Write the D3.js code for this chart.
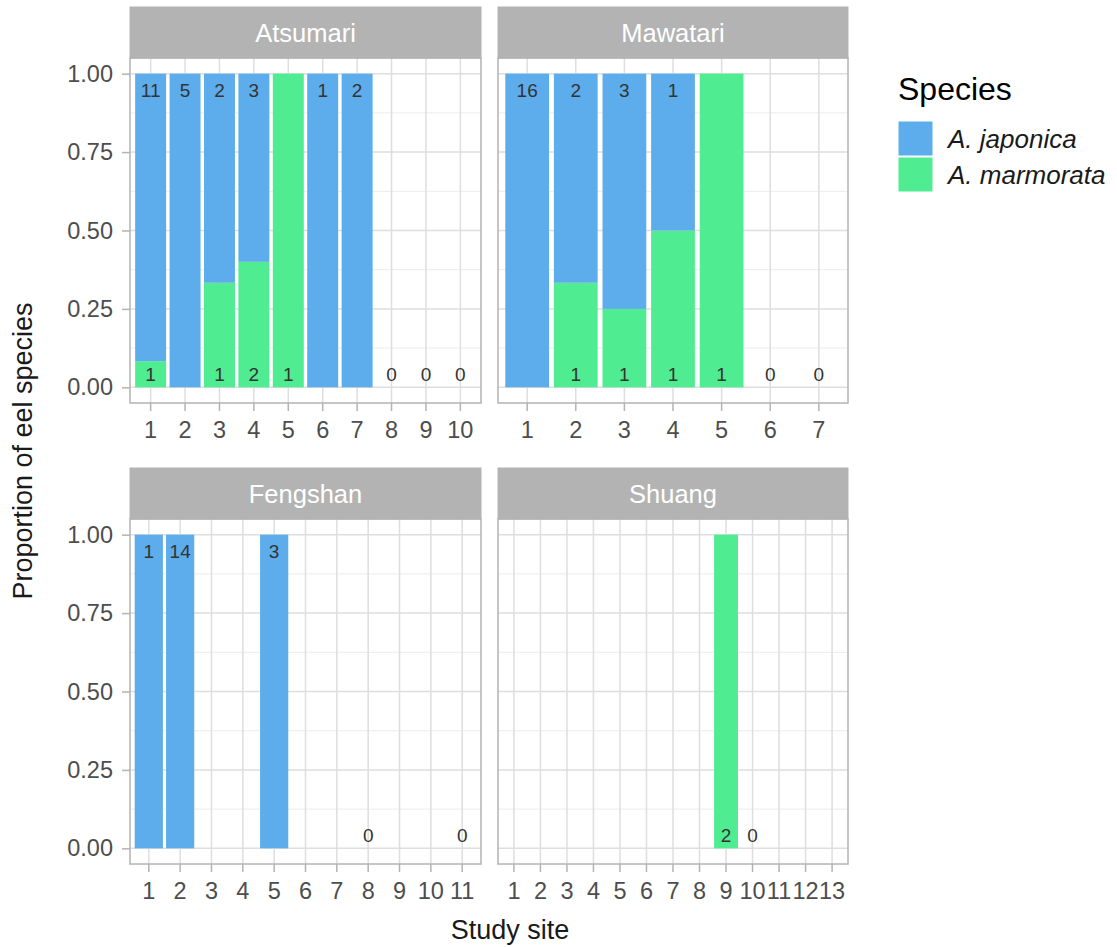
<!DOCTYPE html>
<html lang="en">
<head>
    <meta charset="UTF-8">
    <title>Eel species by study site</title>
    <style>
        body { margin: 0; background: #fff; }
        text { font-family: "Liberation Sans", Arial, Helvetica, sans-serif; }
    </style>
</head>
<body>
    <div id="chart"></div>
    <script src="https://d3js.org/d3.v7.min.js"></script>
    <script>
        // counts per site, null = site not sampled
        const panelNames = ["Atsumari", "Mawatari", "Fengshan", "Shuang"]

        const atsumariJaponica  = [11, 5, 2, 3, 0, 1, 2, 0, 0, 0]
        const atsumariMarmorata = [1, 0, 1, 2, 1, 0, 0, 0, 0, 0]

        const mawatariJaponica  = [16, 2, 3, 1, 0, 0, 0]
        const mawatariMarmorata = [0, 1, 1, 1, 1, 0, 0]

        const fengshanJaponica  = [1, 14, null, null, 3, null, null, 0, null, null, 0]
        const fengshanMarmorata = [0, 0, null, null, 0, null, null, 0, null, null, 0]

        const shuangJaponica  = [null, null, null, null, null, null, null, null, 0, 0, null, null, null]
        const shuangMarmorata = [null, null, null, null, null, null, null, null, 2, 0, null, null, null]

        const yTicks = [0, 0.25, 0.5, 0.75, 1]
        const yMinor = [0.125, 0.375, 0.625, 0.875]

        const speciesNames = ["A. japonica", "A. marmorata"]
        const colors = { jap: "#5DADEC", mar: "#50EC91" }

        const panelData = {
            Atsumari: [atsumariJaponica, atsumariMarmorata],
            Mawatari: [mawatariJaponica, mawatariMarmorata],
            Fengshan: [fengshanJaponica, fengshanMarmorata],
            Shuang:   [shuangJaponica, shuangMarmorata]
        }

        const [width, height] = [1117, 947]
        const svg = d3.select("#chart").append("svg")
            .attr("width", width)
            .attr("height", height)

        const cols = [[130, 481], [498, 848]]
        const rows = [{ strip: 7, top: 58, bottom: 403 }, { strip: 468, top: 519, bottom: 864 }]

        panelNames.forEach(function (name, idx) {
            const [xl, xr] = cols[idx % 2]
            const row = rows[Math.floor(idx / 2)]
            const [jap, mar] = panelData[name]
            const sites = jap.map((d, i) => String(i + 1))

            const x = d3.scaleBand().domain(sites).range([xl, xr])
                .paddingInner(0.1).paddingOuter(0.15)
            const y = d3.scaleLinear().domain([-0.05, 1.05]).range([row.bottom, row.top])

            const g = svg.append("g")

            // grid
            g.selectAll(".minor").data(yMinor).join("line")
                .attr("x1", xl).attr("x2", xr)
                .attr("y1", d => y(d)).attr("y2", d => y(d))
                .attr("stroke", "#EBEBEB").attr("stroke-width", 1)
            g.selectAll(".majory").data(yTicks).join("line")
                .attr("x1", xl).attr("x2", xr)
                .attr("y1", d => y(d)).attr("y2", d => y(d))
                .attr("stroke", "#DEDEDE").attr("stroke-width", 1.5)
            g.selectAll(".majorx").data(sites).join("line")
                .attr("x1", d => x(d) + x.bandwidth() / 2).attr("x2", d => x(d) + x.bandwidth() / 2)
                .attr("y1", row.top).attr("y2", row.bottom)
                .attr("stroke", "#DEDEDE").attr("stroke-width", 1.5)

            // stacked proportions
            const rowsData = sites.map((s, i) => ({ site: s, jap: jap[i], mar: mar[i] }))
            const valid = rowsData.filter(d => d.jap !== null && d.jap + d.mar > 0)
            const stack = d3.stack().keys(["mar", "jap"]).offset(d3.stackOffsetExpand)
            const series = stack(valid)

            series.forEach(function (s) {
                g.selectAll(null).data(s.filter(d => d[1] - d[0] > 0)).join("rect")
                    .attr("x", d => x(d.data.site))
                    .attr("width", x.bandwidth())
                    .attr("y", d => y(d[1]))
                    .attr("height", d => y(d[0]) - y(d[1]))
                    .attr("fill", colors[s.key])
            })

            // count labels
            const labels = []
            rowsData.forEach(function (d) {
                if (d.jap === null) return
                if (d.jap > 0) labels.push({ site: d.site, v: 0.945, t: d.jap })
                if (d.mar > 0) labels.push({ site: d.site, v: 0.04, t: d.mar })
                if (d.jap + d.mar === 0) labels.push({ site: d.site, v: 0.04, t: 0 })
            })
            g.selectAll(null).data(labels).join("text")
                .attr("x", d => x(d.site) + x.bandwidth() / 2)
                .attr("y", d => y(d.v))
                .attr("text-anchor", "middle")
                .attr("dominant-baseline", "central")
                .attr("font-size", 19)
                .attr("fill", "#333333")
                .text(d => d.t)

            // panel border
            g.append("rect")
                .attr("x", xl).attr("y", row.top)
                .attr("width", xr - xl).attr("height", row.bottom - row.top)
                .attr("fill", "none").attr("stroke", "#B3B3B3").attr("stroke-width", 1.5)

            // strip
            g.append("rect")
                .attr("x", xl).attr("y", row.strip)
                .attr("width", xr - xl).attr("height", row.top - row.strip)
                .attr("fill", "#B3B3B3").attr("stroke", "#B3B3B3")
            g.append("text")
                .attr("x", (xl + xr) / 2).attr("y", (row.strip + row.top) / 2)
                .attr("text-anchor", "middle").attr("dominant-baseline", "central")
                .attr("font-size", 25.5).attr("fill", "#FFFFFF")
                .text(name)

            // x axis
            const xAxis = g.append("g")
                .attr("transform", `translate(0,${row.bottom})`)
                .call(d3.axisBottom(x).tickSize(8).tickPadding(10))
            xAxis.select(".domain").remove()
            xAxis.selectAll("line").attr("stroke", "#B3B3B3").attr("stroke-width", 1.5)
            xAxis.selectAll("text").attr("font-size", 23.5).attr("fill", "#4D4D4D")
                .attr("font-family", "Liberation Sans, Arial, sans-serif")

            // y axis on left column
            if (idx % 2 === 0) {
                const yAxis = g.append("g")
                    .attr("transform", `translate(${xl},0)`)
                    .call(d3.axisLeft(y).tickValues(yTicks).tickFormat(d3.format(".2f")).tickSize(8).tickPadding(9))
                yAxis.select(".domain").remove()
                yAxis.selectAll("line").attr("stroke", "#B3B3B3").attr("stroke-width", 1.5)
                yAxis.selectAll("text").attr("font-size", 23.5).attr("fill", "#4D4D4D")
                    .attr("font-family", "Liberation Sans, Arial, sans-serif")
            }
        })

        // axis titles
        svg.append("text")
            .attr("x", 510).attr("y", 939)
            .attr("text-anchor", "middle")
            .attr("font-size", 27).attr("fill", "#1A1A1A")
            .text("Study site")
        svg.append("text")
            .attr("transform", "translate(32,451) rotate(-90)")
            .attr("text-anchor", "middle")
            .attr("font-size", 27).attr("fill", "#1A1A1A")
            .text("Proportion of eel species")

        // legend
        const legend = svg.append("g")
        legend.append("text")
            .attr("x", 898).attr("y", 100)
            .attr("font-size", 32).attr("fill", "#000")
            .text("Species")
        legend.selectAll("rect").data(speciesNames).join("rect")
            .attr("x", 898).attr("y", (d, i) => 121 + i * 36)
            .attr("width", 35).attr("height", 35)
            .attr("fill", (d, i) => i === 0 ? colors.jap : colors.mar)
            .attr("stroke", "#fff").attr("stroke-width", 1)
        legend.selectAll(".lab").data(speciesNames).join("text")
            .attr("x", 948).attr("y", (d, i) => 139 + i * 36)
            .attr("dominant-baseline", "central")
            .attr("font-size", 26).attr("font-style", "italic").attr("fill", "#1A1A1A")
            .text(d => d)
    </script>
</body>
</html>
